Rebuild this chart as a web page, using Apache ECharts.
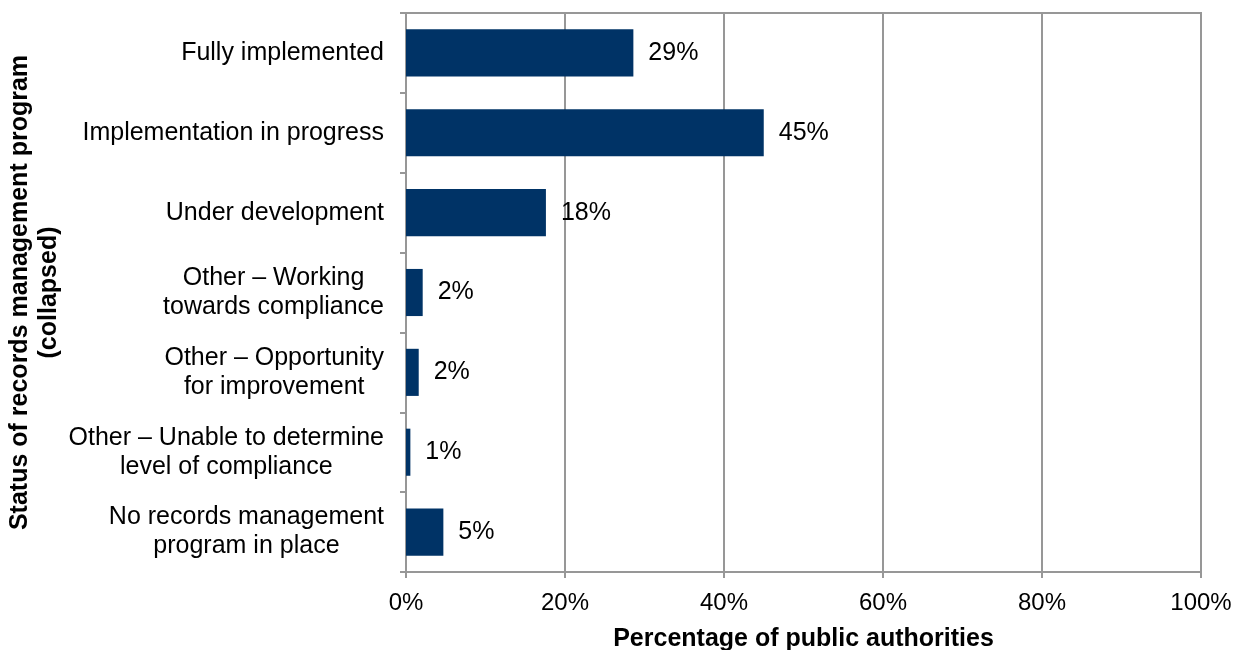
<!DOCTYPE html>
<html>
<head>
<meta charset="utf-8">
<title>Status of records management program</title>
<script src="https://cdn.jsdelivr.net/npm/echarts@6/dist/echarts.min.js"></script>
<style>
  html, body { margin: 0; padding: 0; background: #ffffff; }
  #chart { width: 1241px; height: 650px; }
</style>
</head>
<body>
<div id="chart"></div>
<script>
// Program status categories, top to bottom
const categories = [
  'Fully implemented',
  'Implementation in progress',
  'Under development',
  'Other \u2013 Working\ntowards compliance',
  'Other \u2013 Opportunity\nfor improvement',
  'Other \u2013 Unable to determine\nlevel of compliance',
  'No records management\nprogram in place'
];

// Share of public authorities (%) in each status
const shares = [28.6, 45.0, 17.6, 2.1, 1.6, 0.55, 4.7];

// Percentage axis
const axisMin = 0;
const axisMax = 100;
const axisStep = 20;

const FONT = '"Liberation Sans", Arial, sans-serif';
const GRID_GREY = '#979797';

const chart = echarts.init(document.getElementById('chart'), null, { renderer: 'canvas' });

chart.setOption({
  backgroundColor: '#ffffff',
  animation: false,
  grid: {
    left: 406,
    right: 40,
    top: 13,
    bottom: 78,
    show: true,
    borderColor: GRID_GREY,
    borderWidth: 2,
    containLabel: false,
    outerBoundsMode: 'none'
  },
  xAxis: {
    type: 'value',
    min: axisMin,
    max: axisMax,
    interval: axisStep,
    name: 'Percentage of public authorities',
    nameLocation: 'middle',
    nameGap: 55,
    nameMoveOverlap: false,
    nameTextStyle: { fontFamily: FONT, fontSize: 25, fontWeight: 'bold', color: '#000' },
    axisLine: { show: true, lineStyle: { color: GRID_GREY, width: 2 } },
    axisTick: { show: true, inside: false, length: 6, lineStyle: { color: GRID_GREY, width: 2 } },
    axisLabel: {
      formatter: '{value}%',
      fontFamily: FONT,
      fontSize: 24,
      color: '#000',
      margin: 19
    },
    splitLine: { show: true, lineStyle: { color: GRID_GREY, width: 2 } }
  },
  yAxis: {
    type: 'category',
    data: categories,
    inverse: true,
    name: 'Status of records management program\n(collapsed)',
    nameLocation: 'middle',
    nameRotate: 90,
    nameGap: 342,
    nameMoveOverlap: false,
    nameTextStyle: { fontFamily: FONT, fontSize: 25, fontWeight: 'bold', color: '#000', lineHeight: 29, align: 'center' },
    axisLine: { show: true, lineStyle: { color: GRID_GREY, width: 2 } },
    axisTick: { show: true, inside: false, length: 6, alignWithLabel: false, lineStyle: { color: GRID_GREY, width: 2 } },
    axisLabel: {
      margin: 22,
      formatter: v => v.split('\n').map(s => '{c|' + s + '}').join('\n'),
      rich: {
        c: { align: 'center', fontFamily: FONT, fontSize: 25, lineHeight: 29, color: '#000' }
      }
    },
    splitLine: { show: false }
  },
  series: [{
    type: 'bar',
    data: shares,
    barCategoryGap: '41%',
    itemStyle: { color: '#003366' },
    label: {
      show: true,
      position: 'right',
      distance: 15,
      formatter: p => Math.round(p.value) + '%',
      fontFamily: FONT,
      fontSize: 25,
      color: '#000'
    }
  }]
});
</script>
</body>
</html>
